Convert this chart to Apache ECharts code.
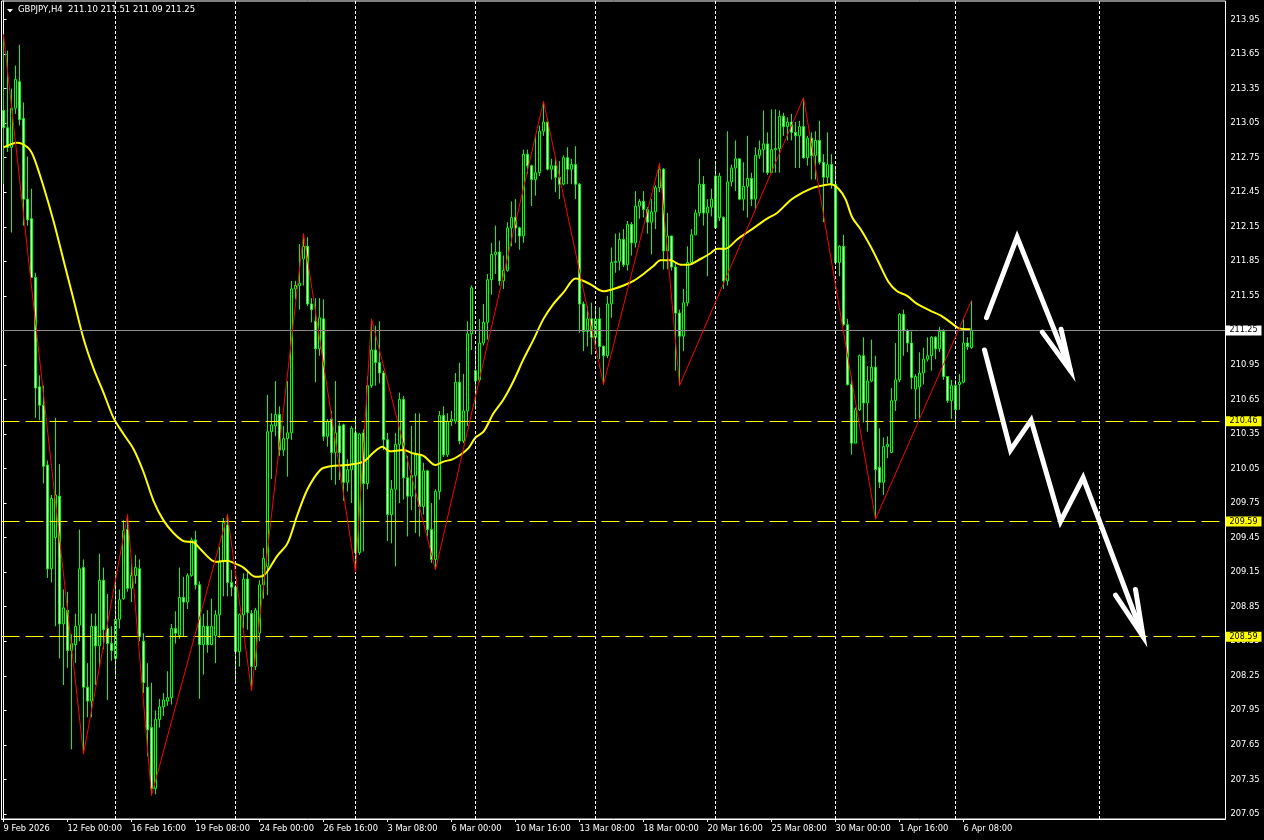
<!DOCTYPE html>
<html><head><meta charset="utf-8">
<script src="https://cdn.jsdelivr.net/npm/echarts@6/dist/echarts.min.js"></script>
<style>html,body{margin:0;padding:0;background:#000;}#c{width:1264px;height:840px;}</style>
</head><body><div id="c"></div>
<script>
const symbolName = 'GBPJPY,H4';
const xTickLabels = ["9 Feb 2026","12 Feb 00:00","16 Feb 16:00","19 Feb 08:00","24 Feb 00:00","26 Feb 16:00","3 Mar 08:00","6 Mar 00:00","10 Mar 16:00","13 Mar 08:00","18 Mar 00:00","20 Mar 16:00","25 Mar 08:00","30 Mar 00:00","1 Apr 16:00","6 Apr 08:00"];
const xTickStep = 16;
const totalSlots = 306;
const yTicks = [207.05,207.35,207.65,207.95,208.25,208.55,208.85,209.15,209.45,209.75,210.05,210.35,210.65,210.95,211.25,211.55,211.85,212.15,212.45,212.75,213.05,213.35,213.65,213.95];
const bidLevel = 211.25;
const levels = [210.46, 209.59, 208.59];
const gridBars = [28,58,88,118,148,178,208,238,274];
// [open, close, low, high]
const candles = [
[213.16,213.01,212.52,213.82],[213.01,212.84,212.80,213.68],[212.84,213.18,212.10,213.35],[213.18,213.43,213.13,213.55],[213.41,213.08,213.03,213.73],
[213.09,212.39,212.16,213.23],[212.39,212.21,212.16,212.76],[212.22,211.71,211.71,212.48],[211.71,210.75,210.49,211.75],[210.76,210.60,210.47,210.86],
[210.60,210.07,209.92,210.77],[210.08,209.18,209.10,210.12],[209.18,209.79,209.06,209.82],[209.45,209.82,208.68,210.49],[209.81,208.70,208.40,210.09],
[208.70,208.84,208.17,209.00],[208.82,208.47,208.32,208.98],[208.47,208.53,207.61,208.61],[208.52,208.68,208.36,208.79],[208.69,209.18,208.55,209.52],
[209.19,208.15,207.57,209.26],[208.15,208.03,207.89,208.36],[208.03,208.68,207.89,208.79],[208.68,208.51,208.17,208.79],[208.51,209.08,208.32,209.31],
[209.08,208.65,208.48,209.19],[208.66,208.53,208.04,208.96],[208.53,208.47,208.38,208.68],[208.40,208.74,208.25,209.13],[208.74,208.91,208.66,209.00],
[208.92,209.51,208.91,209.60],[209.52,209.01,208.98,209.65],[209.01,209.12,208.89,209.26],[209.12,209.19,209.05,209.30],[209.18,208.59,208.55,209.26],
[208.55,208.19,208.10,208.62],[208.15,207.78,207.55,208.36],[207.80,207.27,207.21,208.19],[207.27,207.87,207.22,207.95],[207.87,207.98,207.80,208.05],
[207.98,208.04,207.90,208.10],[208.03,208.06,207.99,208.29],[208.06,208.66,208.00,208.70],[208.66,208.62,208.53,208.81],[208.60,208.93,208.57,209.19],
[208.93,208.89,208.59,209.11],[208.89,209.12,208.83,209.14],[209.12,209.43,209.11,209.45],[209.43,209.04,209.00,209.51],[209.04,208.52,208.05,209.07],
[208.52,208.68,208.26,208.79],[208.68,208.52,208.45,208.82],[208.52,208.68,208.52,208.92],[208.60,208.78,208.36,208.82],[208.78,209.24,208.58,209.37],
[209.24,209.58,208.94,209.62],[209.56,209.06,208.94,209.65],[209.06,209.02,208.94,209.17],[209.02,208.46,208.19,209.04],[208.46,208.78,208.33,208.79],
[208.78,209.09,208.66,209.14],[209.09,208.80,208.65,209.17],[208.79,208.33,208.12,208.82],[208.33,208.82,208.30,208.84],[208.62,209.04,208.55,209.08],
[209.04,209.27,208.92,209.36],[209.20,210.37,208.95,210.69],[210.37,210.43,209.96,210.53],[210.42,210.52,210.33,210.81],[210.52,210.21,210.16,210.59],
[210.21,210.31,210.16,210.42],[210.31,210.36,209.98,210.81],[210.36,211.61,210.30,211.68],[211.61,211.64,211.52,211.68],[211.64,211.66,211.43,212.00],
[211.87,211.98,211.64,212.09],[211.98,211.48,211.46,212.06],[211.48,211.43,211.32,211.53],[211.33,211.09,210.80,211.53],[211.09,211.36,211.03,211.53],
[211.35,210.33,210.29,211.52],[210.33,210.46,210.24,210.48],[210.48,210.19,209.95,210.55],[210.19,210.36,209.91,210.81],[210.42,210.19,209.95,210.45],
[210.43,209.93,209.77,210.44],[209.93,210.04,209.85,210.13],[210.04,210.40,209.75,210.42],[210.36,209.32,209.15,210.48],[209.32,210.35,209.30,210.36],
[210.36,209.92,209.33,210.39],[209.92,210.77,209.87,210.85],[210.77,211.08,210.75,211.35],[211.08,210.97,210.77,211.29],[210.97,210.88,210.79,211.33],
[210.88,210.30,210.21,210.90],[210.30,209.65,209.42,210.36],[209.65,209.87,209.40,209.95],[209.87,210.26,209.20,210.36],[210.26,210.65,209.75,210.71],
[210.65,209.97,209.78,210.68],[209.97,209.81,209.46,210.16],[209.81,209.99,209.69,210.42],[209.99,210.17,209.49,210.53],[210.17,209.72,209.46,210.53],
[209.72,210.03,209.65,210.10],[210.03,209.52,209.46,210.04],[209.52,209.26,209.23,209.75],[209.26,209.85,209.17,209.87],[209.85,210.51,209.78,210.55],
[210.51,210.17,210.15,210.59],[210.17,210.46,210.15,210.53],[210.46,210.48,210.42,210.55],[210.46,210.80,210.44,210.88],[210.80,210.29,210.26,210.97],
[210.29,210.55,210.27,210.87],[210.55,211.22,210.42,211.33],[211.22,211.62,211.08,211.64],[210.90,210.81,210.56,211.10],[210.82,211.14,210.80,211.35],
[211.14,211.32,211.12,211.48],[211.32,211.69,211.17,211.74],[211.69,211.91,211.56,212.01],[211.91,211.93,211.74,212.16],[211.93,211.68,211.64,212.03],
[211.68,211.77,211.61,211.90],[211.77,212.14,211.76,212.19],[212.14,212.23,211.98,212.37],[212.23,212.14,212.01,212.39],[212.14,212.07,211.95,212.15],
[212.07,212.78,212.01,212.82],[212.78,212.68,212.61,212.82],[212.68,212.56,212.33,212.69],[212.56,212.62,212.42,212.94],[212.62,212.98,212.59,213.03],
[212.98,213.06,212.94,213.24],[213.06,212.65,212.64,213.09],[212.65,212.68,212.56,212.74],[212.68,212.58,212.45,212.74],[212.58,212.52,212.39,212.72],
[212.52,212.75,212.51,212.77],[212.75,212.65,212.52,212.84],[212.65,212.69,212.52,212.74],[212.69,212.52,212.39,212.85],[212.52,211.48,211.23,212.53],
[211.48,211.24,211.07,211.50],[211.24,211.35,211.11,211.46],[211.35,211.19,211.04,211.49],[211.19,211.35,211.10,211.45],[211.35,211.11,211.00,211.45],
[211.11,211.03,210.78,211.12],[211.03,211.48,211.01,211.55],[211.48,211.84,211.36,211.97],[211.84,211.85,211.75,212.09],[211.85,212.04,211.77,212.10],
[212.04,211.82,211.80,212.13],[211.82,212.17,211.77,212.20],[212.17,212.01,211.90,212.19],[212.01,212.33,211.97,212.46],[212.33,212.37,212.22,212.39],
[212.37,212.30,212.23,212.46],[212.30,212.19,212.09,212.32],[212.19,212.28,211.91,212.39],[212.28,212.49,212.13,212.51],[212.49,212.65,212.45,212.70],
[212.65,211.94,211.78,212.66],[211.94,212.07,211.78,212.27],[212.07,211.80,211.77,212.07],[211.80,211.40,210.90,211.84],[211.40,211.20,210.77,211.43],
[211.20,211.49,211.07,211.61],[211.49,211.84,211.46,211.98],[211.84,212.08,211.84,212.13],[212.08,212.27,212.08,212.30],[212.27,212.52,212.24,212.74],
[212.52,212.27,212.16,212.59],[212.27,212.32,211.72,212.39],[212.32,212.39,212.24,212.48],[212.59,212.14,212.13,212.71],[212.23,212.59,212.20,212.62],
[212.23,211.68,211.61,212.24],[211.68,212.54,211.64,212.98],[212.54,212.66,212.50,212.69],[212.66,212.74,212.46,212.90],[212.74,212.39,212.38,212.74],
[212.39,212.50,212.29,212.71],[212.50,212.57,212.23,212.94],[212.57,212.39,212.33,212.62],[212.39,212.77,212.30,212.84],[212.77,212.82,212.74,212.90],
[212.82,212.87,212.62,213.16],[212.87,212.62,212.60,212.97],[212.62,212.82,212.62,213.17],[212.82,212.83,212.62,213.17],[212.83,213.11,212.62,213.16],
[213.11,213.02,212.94,213.14],[213.02,213.06,212.90,213.10],[213.06,212.97,212.90,213.13],[212.97,212.94,212.66,213.06],[212.94,213.02,212.66,213.07],
[213.02,212.75,212.74,213.27],[212.75,212.92,212.68,212.94],[212.92,212.77,212.56,212.97],[212.77,212.90,212.56,212.98],[212.90,212.71,212.69,213.07],
[212.71,212.58,212.19,212.78],[212.58,212.69,212.53,212.97],[212.69,212.52,212.48,212.78],[212.52,211.84,211.82,212.66],[211.84,211.98,211.72,211.99],
[211.98,211.30,211.29,212.08],[211.30,210.78,210.77,211.35],[210.78,210.27,210.17,210.85],[210.27,210.56,210.27,210.58],[210.56,211.03,210.55,211.04],
[211.03,210.62,210.45,211.19],[210.62,210.81,210.37,210.94],[210.81,210.93,210.80,211.17],[210.93,210.04,209.61,211.03],[210.06,209.93,209.88,210.40],
[209.93,210.24,209.82,210.32],[210.24,210.26,210.14,210.33],[210.19,210.64,210.19,210.75],[210.64,210.82,210.55,211.14],[210.82,211.39,210.80,211.40],
[211.39,211.25,211.03,211.43],[211.25,211.14,211.06,211.26],[211.14,210.84,210.74,211.24],[210.74,210.85,210.48,210.87],[210.76,210.88,210.48,211.06],
[210.88,211.00,210.78,211.10],[211.00,211.03,210.98,211.19],[211.03,211.19,210.90,211.20],[211.19,211.09,211.00,211.20],[211.09,211.24,211.06,211.28],
[211.24,210.85,210.82,211.26],[210.85,210.64,210.62,210.85],[210.64,210.77,210.48,210.82],[210.77,210.56,210.40,210.82],[210.78,210.80,210.56,210.87],
[210.80,211.14,210.79,211.35],[211.14,211.11,211.08,211.19],[211.10,211.25,211.09,211.51]
];
// moving average: [bar position, price]
const maLine = [[0,212.84],[3.4,212.88],[6,212.84],[7.5,212.76],[10,212.50],[12.5,212.20],[15,211.86],[17.5,211.52],[20,211.18],[22.5,210.92],[25,210.71],[27.5,210.49],[30,210.35],[32.5,210.22],[35,210.02],[37.5,209.77],[40,209.60],[42.5,209.49],[45,209.42],[47.5,209.41],[49.25,209.35],[53,209.24],[56,209.25],[57.5,209.23],[60,209.19],[63,209.11],[65,209.12],[68.4,209.29],[71,209.40],[73.4,209.64],[76,209.87],[79.25,210.04],[81.75,210.07],[85.9,210.08],[90,210.11],[92.5,210.19],[94.7,210.24],[96.5,210.20],[100,210.21],[102.5,210.18],[105,210.16],[108,210.08],[110,210.11],[112.2,210.13],[114.25,210.17],[116.3,210.23],[118,210.32],[120,210.37],[122.5,210.53],[125,210.65],[127.5,210.81],[130,211.00],[132.5,211.17],[135,211.35],[137.5,211.48],[140,211.58],[143,211.70],[144.25,211.69],[146.75,211.65],[150,211.59],[152.5,211.61],[155,211.64],[157.5,211.68],[160,211.74],[162.5,211.81],[164.25,211.86],[166.75,211.86],[169.25,211.82],[171.25,211.82],[174.25,211.87],[176.75,211.92],[178.4,211.96],[180.5,211.96],[183.4,212.04],[185.9,212.10],[188.4,212.16],[190.9,212.22],[193.4,212.27],[196.75,212.38],[200,212.45],[202.5,212.49],[205,212.51],[206.75,212.52],[208.75,212.48],[210.5,212.39],[212.2,212.23],[214.25,212.13],[216.75,211.98],[218.8,211.84],[221.25,211.67],[223.4,211.59],[225.9,211.55],[228.4,211.48],[231.75,211.42],[234.25,211.38],[236.75,211.32],[238.75,211.27],[241.75,211.26]];
const zigzag = [[0,213.82],[20,207.57],[31,209.65],[37,207.21],[56,209.65],[62,208.12],[75,212.09],[88,209.15],[92,211.35],[108,209.17],[135,213.24],[150,210.78],[164,212.70],[169,210.77],[200,213.27],[218,209.61],[242,211.51]];
const arrowUpper = [[245.75,211.36],[253.4,212.06],[266.75,210.90]];
const arrowUpperHead = [[259.7,211.235],[266.75,210.90],[264.4,211.26]];
const arrowLower = [[245.25,211.08],[251.75,210.21],[256.9,210.47],[264.25,209.59],[269.9,209.97],[284.9,208.59]];
const arrowLowerHead = [[278,208.95],[284.9,208.59],[283,209.0]];

const FONT = 'DejaVu Sans';
const categories = Array.from({length: totalSlots}, (_, i) => String(i));
const lastBar = candles[candles.length - 1];
const titleText = symbolName + '  ' + [lastBar[0], lastBar[3], lastBar[2], lastBar[1]].map(v => v.toFixed(2)).join(' ');
const showTick = i => i % xTickStep === 0 && i / xTickStep < xTickLabels.length;

const chart = echarts.init(document.getElementById('c'), null, {renderer: 'canvas', width: 1264, height: 840});

function arrowSeries(data) {
  return {type: 'line', xAxisIndex: 1, data: data, showSymbol: false, symbol: 'none', silent: true, z: 8,
    lineStyle: {color: '#fff', width: 5, cap: 'round', join: 'miter'}};
}
const boxLabel = {show: true, position: 'end', formatter: p => Number(p.value).toFixed(2), color: '#000',
  fontFamily: FONT, fontSize: 8, lineHeight: 10, padding: [0, 4, 0, 4], distance: 0};

chart.setOption({
  backgroundColor: '#000',
  animation: false,
  grid: {left: 1.5, right: 38.5, top: 1, bottom: 21, show: true, borderColor: '#fff', borderWidth: 1, backgroundColor: '#000'},
  graphic: [
    {type: 'polygon', left: 7, top: 9, shape: {points: [[0, 0], [6, 0], [3, 3.5]]}, style: {fill: '#fff'}, z: 100},
    {type: 'text', left: 18, top: 5, style: {text: titleText, fill: '#fff', font: '8.5px "DejaVu Sans"'}, z: 100}
  ],
  xAxis: [
    {type: 'category', data: categories, boundaryGap: true,
      axisLine: {show: true, lineStyle: {color: '#fff', width: 1}},
      axisTick: {show: true, alignWithLabel: true, interval: i => showTick(i), length: 3, lineStyle: {color: '#fff'}},
      axisLabel: {show: true, interval: i => showTick(i), formatter: (v, i) => (showTick(i) ? xTickLabels[i / xTickStep] : ''),
        color: '#fff', fontFamily: FONT, fontSize: 8.3, align: 'left', margin: 6},
      splitLine: {show: false}},
    {type: 'value', min: -0.5, max: totalSlots - 0.5, show: false}
  ],
  yAxis: {type: 'value', position: 'right', min: 207.006, max: 214.111,
    axisLine: {show: true, lineStyle: {color: '#fff'}},
    axisTick: {show: true, customValues: yTicks, length: 3, lineStyle: {color: '#fff'}},
    axisLabel: {show: true, customValues: yTicks, formatter: v => Number(v).toFixed(2), color: '#fff', fontFamily: FONT, fontSize: 8.3, margin: 5},
    splitLine: {show: false}},
  series: [
    {type: 'line', xAxisIndex: 1, data: [], z: 1, silent: true,
      markLine: {symbol: 'none', silent: true, animation: false, label: {show: false},
        lineStyle: {color: '#fff', type: [3, 2], width: 1},
        data: gridBars.map(b => ({xAxis: b}))}},
    {type: 'candlestick', xAxisIndex: 0, data: candles, barWidth: 2, z: 2, silent: true,
      itemStyle: {color: '#000', color0: '#fff', borderColor: '#00ff00', borderColor0: '#00ff00', borderColorDoji: '#00ff00', borderWidth: 1}},
    {type: 'line', xAxisIndex: 1, data: [], z: 3, silent: true,
      markLine: {symbol: 'none', silent: true, animation: false, label: boxLabel,
        data: [{yAxis: bidLevel, lineStyle: {color: '#8c8c8c', type: 'solid', width: 1}, label: {backgroundColor: '#fff'}}]
          .concat(levels.map(v => ({yAxis: v, lineStyle: {color: '#ffff00', type: [18, 6], width: 1}, label: {backgroundColor: '#ffff00'}})))}},
    {type: 'line', xAxisIndex: 1, data: maLine, showSymbol: false, symbol: 'none', smooth: 0.3, silent: true, z: 4,
      lineStyle: {color: '#ffff00', width: 2}},
    {type: 'line', xAxisIndex: 1, data: zigzag, showSymbol: false, symbol: 'none', silent: true, z: 5,
      lineStyle: {color: '#ff0000', width: 1}},
    arrowSeries(arrowUpper), arrowSeries(arrowUpperHead), arrowSeries(arrowLower), arrowSeries(arrowLowerHead)
  ]
});
</script></body></html>
